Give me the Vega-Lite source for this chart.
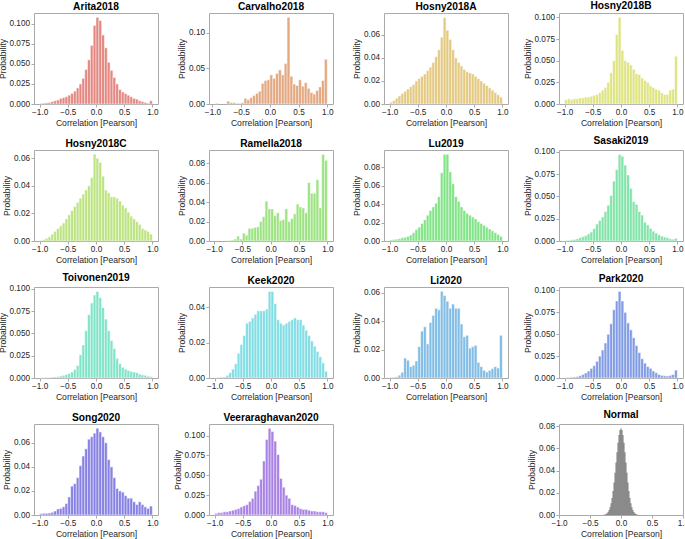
{
"$schema":"https://vega.github.io/schema/vega-lite/v6.json",
"padding":{"left":-3,"top":0,"right":2,"bottom":0},
"columns":4,
"bounds":"flush",
"spacing":{"row":46,"column":51},
"config":{
 "view":{"stroke":"#aaaaaa","strokeWidth":1},
 "font":"Liberation Sans",
 "axis":{"domain":false,"grid":false,"ticks":true,"tickColor":"#aaaaaa","tickSize":3,"labelFont":"Liberation Sans","labelFontSize":8.2,"labelColor":"#262626","titleFont":"Liberation Sans","titleFontSize":8.6,"titleFontWeight":"normal","titleColor":"#262626","labelPadding":1.5,"titlePadding":2,"labelOverlap":false,"labelFlush":false,"labelBound":false},
 "axisX":{"titlePadding":2.5},
 "title":{"font":"Liberation Sans","fontSize":10.2,"fontWeight":"bold","color":"#000000","offset":1,"anchor":"middle"}
},
"datasets":{
"Arita2018":[{"b":-1,"e":-0.95,"v":0.0005},{"b":-0.95,"e":-0.9,"v":0.001},{"b":-0.9,"e":-0.85,"v":0.0015},{"b":-0.85,"e":-0.8,"v":0.002},{"b":-0.8,"e":-0.75,"v":0.003},{"b":-0.75,"e":-0.7,"v":0.004},{"b":-0.7,"e":-0.65,"v":0.005},{"b":-0.65,"e":-0.6,"v":0.007},{"b":-0.6,"e":-0.55,"v":0.008},{"b":-0.55,"e":-0.5,"v":0.009},{"b":-0.5,"e":-0.45,"v":0.011},{"b":-0.45,"e":-0.4,"v":0.013},{"b":-0.4,"e":-0.35,"v":0.016},{"b":-0.35,"e":-0.3,"v":0.02},{"b":-0.3,"e":-0.25,"v":0.025},{"b":-0.25,"e":-0.2,"v":0.032},{"b":-0.2,"e":-0.15,"v":0.043},{"b":-0.15,"e":-0.1,"v":0.055},{"b":-0.1,"e":-0.05,"v":0.073},{"b":-0.05,"e":0,"v":0.098},{"b":0,"e":0.05,"v":0.108},{"b":0.05,"e":0.1,"v":0.104},{"b":0.1,"e":0.15,"v":0.086},{"b":0.15,"e":0.2,"v":0.07},{"b":0.2,"e":0.25,"v":0.052},{"b":0.25,"e":0.3,"v":0.042},{"b":0.3,"e":0.35,"v":0.033},{"b":0.35,"e":0.4,"v":0.025},{"b":0.4,"e":0.45,"v":0.018},{"b":0.45,"e":0.5,"v":0.015},{"b":0.5,"e":0.55,"v":0.013},{"b":0.55,"e":0.6,"v":0.011},{"b":0.6,"e":0.65,"v":0.009},{"b":0.65,"e":0.7,"v":0.007},{"b":0.7,"e":0.75,"v":0.006},{"b":0.75,"e":0.8,"v":0.004},{"b":0.8,"e":0.85,"v":0.003},{"b":0.85,"e":0.9,"v":0.002},{"b":0.9,"e":0.95,"v":0.001},{"b":0.95,"e":1,"v":0.004}],
"Carvalho2018":[{"b":-0.95,"e":-0.9,"v":0.001},{"b":-0.75,"e":-0.7,"v":0.004},{"b":-0.7,"e":-0.65,"v":0.002},{"b":-0.65,"e":-0.6,"v":0.002},{"b":-0.6,"e":-0.55,"v":0.001},{"b":-0.55,"e":-0.5,"v":0.001},{"b":-0.5,"e":-0.45,"v":0.002},{"b":-0.45,"e":-0.4,"v":0.008},{"b":-0.4,"e":-0.35,"v":0.006},{"b":-0.35,"e":-0.3,"v":0.009},{"b":-0.3,"e":-0.25,"v":0.012},{"b":-0.25,"e":-0.2,"v":0.015},{"b":-0.2,"e":-0.15,"v":0.018},{"b":-0.15,"e":-0.1,"v":0.029},{"b":-0.1,"e":-0.05,"v":0.033},{"b":-0.05,"e":0,"v":0.034},{"b":0,"e":0.05,"v":0.041},{"b":0.05,"e":0.1,"v":0.036},{"b":0.1,"e":0.15,"v":0.043},{"b":0.15,"e":0.2,"v":0.048},{"b":0.2,"e":0.25,"v":0.041},{"b":0.25,"e":0.3,"v":0.057},{"b":0.3,"e":0.35,"v":0.122},{"b":0.35,"e":0.4,"v":0.039},{"b":0.4,"e":0.45,"v":0.028},{"b":0.45,"e":0.5,"v":0.026},{"b":0.5,"e":0.55,"v":0.034},{"b":0.55,"e":0.6,"v":0.025},{"b":0.6,"e":0.65,"v":0.03},{"b":0.65,"e":0.7,"v":0.022},{"b":0.7,"e":0.75,"v":0.016},{"b":0.75,"e":0.8,"v":0.014},{"b":0.8,"e":0.85,"v":0.019},{"b":0.85,"e":0.9,"v":0.024},{"b":0.9,"e":0.95,"v":0.033},{"b":0.95,"e":1,"v":0.063}],
"Hosny2018A":[{"b":-1,"e":-0.95,"v":0.0015},{"b":-0.95,"e":-0.9,"v":0.003},{"b":-0.9,"e":-0.85,"v":0.005},{"b":-0.85,"e":-0.8,"v":0.007},{"b":-0.8,"e":-0.75,"v":0.009},{"b":-0.75,"e":-0.7,"v":0.011},{"b":-0.7,"e":-0.65,"v":0.013},{"b":-0.65,"e":-0.6,"v":0.015},{"b":-0.6,"e":-0.55,"v":0.017},{"b":-0.55,"e":-0.5,"v":0.02},{"b":-0.5,"e":-0.45,"v":0.022},{"b":-0.45,"e":-0.4,"v":0.024},{"b":-0.4,"e":-0.35,"v":0.026},{"b":-0.35,"e":-0.3,"v":0.029},{"b":-0.3,"e":-0.25,"v":0.032},{"b":-0.25,"e":-0.2,"v":0.036},{"b":-0.2,"e":-0.15,"v":0.041},{"b":-0.15,"e":-0.1,"v":0.047},{"b":-0.1,"e":-0.05,"v":0.058},{"b":-0.05,"e":0,"v":0.075},{"b":0,"e":0.05,"v":0.064},{"b":0.05,"e":0.1,"v":0.056},{"b":0.1,"e":0.15,"v":0.047},{"b":0.15,"e":0.2,"v":0.04},{"b":0.2,"e":0.25,"v":0.036},{"b":0.25,"e":0.3,"v":0.033},{"b":0.3,"e":0.35,"v":0.03},{"b":0.35,"e":0.4,"v":0.028},{"b":0.4,"e":0.45,"v":0.027},{"b":0.45,"e":0.5,"v":0.026},{"b":0.5,"e":0.55,"v":0.024},{"b":0.55,"e":0.6,"v":0.022},{"b":0.6,"e":0.65,"v":0.02},{"b":0.65,"e":0.7,"v":0.018},{"b":0.7,"e":0.75,"v":0.016},{"b":0.75,"e":0.8,"v":0.014},{"b":0.8,"e":0.85,"v":0.012},{"b":0.85,"e":0.9,"v":0.01},{"b":0.9,"e":0.95,"v":0.008},{"b":0.95,"e":1,"v":0.006}],
"Hosny2018B":[{"b":-1,"e":-0.95,"v":0.005},{"b":-0.95,"e":-0.9,"v":0.006},{"b":-0.9,"e":-0.85,"v":0.005},{"b":-0.85,"e":-0.8,"v":0.006},{"b":-0.8,"e":-0.75,"v":0.006},{"b":-0.75,"e":-0.7,"v":0.007},{"b":-0.7,"e":-0.65,"v":0.007},{"b":-0.65,"e":-0.6,"v":0.008},{"b":-0.6,"e":-0.55,"v":0.008},{"b":-0.55,"e":-0.5,"v":0.009},{"b":-0.5,"e":-0.45,"v":0.01},{"b":-0.45,"e":-0.4,"v":0.011},{"b":-0.4,"e":-0.35,"v":0.013},{"b":-0.35,"e":-0.3,"v":0.016},{"b":-0.3,"e":-0.25,"v":0.019},{"b":-0.25,"e":-0.2,"v":0.025},{"b":-0.2,"e":-0.15,"v":0.036},{"b":-0.15,"e":-0.1,"v":0.05},{"b":-0.1,"e":-0.05,"v":0.08},{"b":-0.05,"e":0,"v":0.1},{"b":0,"e":0.05,"v":0.062},{"b":0.05,"e":0.1,"v":0.05},{"b":0.1,"e":0.15,"v":0.048},{"b":0.15,"e":0.2,"v":0.045},{"b":0.2,"e":0.25,"v":0.04},{"b":0.25,"e":0.3,"v":0.035},{"b":0.3,"e":0.35,"v":0.034},{"b":0.35,"e":0.4,"v":0.03},{"b":0.4,"e":0.45,"v":0.027},{"b":0.45,"e":0.5,"v":0.025},{"b":0.5,"e":0.55,"v":0.021},{"b":0.55,"e":0.6,"v":0.019},{"b":0.6,"e":0.65,"v":0.017},{"b":0.65,"e":0.7,"v":0.016},{"b":0.7,"e":0.75,"v":0.013},{"b":0.75,"e":0.8,"v":0.011},{"b":0.8,"e":0.85,"v":0.011},{"b":0.85,"e":0.9,"v":0.016},{"b":0.9,"e":0.95,"v":0.017},{"b":0.95,"e":1,"v":0.055}],
"Hosny2018C":[{"b":-1,"e":-0.95,"v":0.0005},{"b":-0.95,"e":-0.9,"v":0.001},{"b":-0.9,"e":-0.85,"v":0.002},{"b":-0.85,"e":-0.8,"v":0.003},{"b":-0.8,"e":-0.75,"v":0.005},{"b":-0.75,"e":-0.7,"v":0.007},{"b":-0.7,"e":-0.65,"v":0.009},{"b":-0.65,"e":-0.6,"v":0.011},{"b":-0.6,"e":-0.55,"v":0.013},{"b":-0.55,"e":-0.5,"v":0.016},{"b":-0.5,"e":-0.45,"v":0.019},{"b":-0.45,"e":-0.4,"v":0.022},{"b":-0.4,"e":-0.35,"v":0.025},{"b":-0.35,"e":-0.3,"v":0.028},{"b":-0.3,"e":-0.25,"v":0.031},{"b":-0.25,"e":-0.2,"v":0.034},{"b":-0.2,"e":-0.15,"v":0.037},{"b":-0.15,"e":-0.1,"v":0.04},{"b":-0.1,"e":-0.05,"v":0.046},{"b":-0.05,"e":0,"v":0.063},{"b":0,"e":0.05,"v":0.06},{"b":0.05,"e":0.1,"v":0.057},{"b":0.1,"e":0.15,"v":0.047},{"b":0.15,"e":0.2,"v":0.037},{"b":0.2,"e":0.25,"v":0.035},{"b":0.25,"e":0.3,"v":0.032},{"b":0.3,"e":0.35,"v":0.032},{"b":0.35,"e":0.4,"v":0.031},{"b":0.4,"e":0.45,"v":0.029},{"b":0.45,"e":0.5,"v":0.026},{"b":0.5,"e":0.55,"v":0.024},{"b":0.55,"e":0.6,"v":0.021},{"b":0.6,"e":0.65,"v":0.018},{"b":0.65,"e":0.7,"v":0.016},{"b":0.7,"e":0.75,"v":0.014},{"b":0.75,"e":0.8,"v":0.012},{"b":0.8,"e":0.85,"v":0.009},{"b":0.85,"e":0.9,"v":0.008},{"b":0.9,"e":0.95,"v":0.007},{"b":0.95,"e":1,"v":0.005}],
"Ramella2018":[{"b":-0.8,"e":-0.75,"v":0.0005},{"b":-0.75,"e":-0.7,"v":0.0005},{"b":-0.7,"e":-0.65,"v":0.001},{"b":-0.65,"e":-0.6,"v":0.002},{"b":-0.6,"e":-0.55,"v":0.005},{"b":-0.55,"e":-0.5,"v":0.002},{"b":-0.5,"e":-0.45,"v":0.008},{"b":-0.45,"e":-0.4,"v":0.006},{"b":-0.4,"e":-0.35,"v":0.013},{"b":-0.35,"e":-0.3,"v":0.013},{"b":-0.3,"e":-0.25,"v":0.014},{"b":-0.25,"e":-0.2,"v":0.0145},{"b":-0.2,"e":-0.15,"v":0.02},{"b":-0.15,"e":-0.1,"v":0.025},{"b":-0.1,"e":-0.05,"v":0.041},{"b":-0.05,"e":0,"v":0.033},{"b":0,"e":0.05,"v":0.033},{"b":0.05,"e":0.1,"v":0.026},{"b":0.1,"e":0.15,"v":0.029},{"b":0.15,"e":0.2,"v":0.021},{"b":0.2,"e":0.25,"v":0.022},{"b":0.25,"e":0.3,"v":0.033},{"b":0.3,"e":0.35,"v":0.02},{"b":0.35,"e":0.4,"v":0.023},{"b":0.4,"e":0.45,"v":0.028},{"b":0.45,"e":0.5,"v":0.038},{"b":0.5,"e":0.55,"v":0.035},{"b":0.55,"e":0.6,"v":0.034},{"b":0.6,"e":0.65,"v":0.029},{"b":0.65,"e":0.7,"v":0.06},{"b":0.7,"e":0.75,"v":0.049},{"b":0.75,"e":0.8,"v":0.049},{"b":0.8,"e":0.85,"v":0.063},{"b":0.85,"e":0.9,"v":0.034},{"b":0.9,"e":0.95,"v":0.089},{"b":0.95,"e":1,"v":0.083}],
"Lu2019":[{"b":-1,"e":-0.95,"v":0.001},{"b":-0.95,"e":-0.9,"v":0.0015},{"b":-0.9,"e":-0.85,"v":0.002},{"b":-0.85,"e":-0.8,"v":0.0025},{"b":-0.8,"e":-0.75,"v":0.0035},{"b":-0.75,"e":-0.7,"v":0.004},{"b":-0.7,"e":-0.65,"v":0.005},{"b":-0.65,"e":-0.6,"v":0.0065},{"b":-0.6,"e":-0.55,"v":0.009},{"b":-0.55,"e":-0.5,"v":0.0125},{"b":-0.5,"e":-0.45,"v":0.015},{"b":-0.45,"e":-0.4,"v":0.019},{"b":-0.4,"e":-0.35,"v":0.023},{"b":-0.35,"e":-0.3,"v":0.028},{"b":-0.3,"e":-0.25,"v":0.033},{"b":-0.25,"e":-0.2,"v":0.037},{"b":-0.2,"e":-0.15,"v":0.041},{"b":-0.15,"e":-0.1,"v":0.048},{"b":-0.1,"e":-0.05,"v":0.074},{"b":-0.05,"e":0,"v":0.094},{"b":0,"e":0.05,"v":0.094},{"b":0.05,"e":0.1,"v":0.075},{"b":0.1,"e":0.15,"v":0.062},{"b":0.15,"e":0.2,"v":0.048},{"b":0.2,"e":0.25,"v":0.043},{"b":0.25,"e":0.3,"v":0.037},{"b":0.3,"e":0.35,"v":0.033},{"b":0.35,"e":0.4,"v":0.03},{"b":0.4,"e":0.45,"v":0.028},{"b":0.45,"e":0.5,"v":0.026},{"b":0.5,"e":0.55,"v":0.024},{"b":0.55,"e":0.6,"v":0.021},{"b":0.6,"e":0.65,"v":0.019},{"b":0.65,"e":0.7,"v":0.017},{"b":0.7,"e":0.75,"v":0.015},{"b":0.75,"e":0.8,"v":0.013},{"b":0.8,"e":0.85,"v":0.011},{"b":0.85,"e":0.9,"v":0.009},{"b":0.9,"e":0.95,"v":0.007},{"b":0.95,"e":1,"v":0.005}],
"Sasaki2019":[{"b":-1,"e":-0.95,"v":0.0005},{"b":-0.95,"e":-0.9,"v":0.0008},{"b":-0.9,"e":-0.85,"v":0.0012},{"b":-0.85,"e":-0.8,"v":0.0018},{"b":-0.8,"e":-0.75,"v":0.0025},{"b":-0.75,"e":-0.7,"v":0.0037},{"b":-0.7,"e":-0.65,"v":0.0048},{"b":-0.65,"e":-0.6,"v":0.006},{"b":-0.6,"e":-0.55,"v":0.008},{"b":-0.55,"e":-0.5,"v":0.01},{"b":-0.5,"e":-0.45,"v":0.014},{"b":-0.45,"e":-0.4,"v":0.019},{"b":-0.4,"e":-0.35,"v":0.023},{"b":-0.35,"e":-0.3,"v":0.027},{"b":-0.3,"e":-0.25,"v":0.033},{"b":-0.25,"e":-0.2,"v":0.04},{"b":-0.2,"e":-0.15,"v":0.051},{"b":-0.15,"e":-0.1,"v":0.067},{"b":-0.1,"e":-0.05,"v":0.08},{"b":-0.05,"e":0,"v":0.097},{"b":0,"e":0.05,"v":0.095},{"b":0.05,"e":0.1,"v":0.085},{"b":0.1,"e":0.15,"v":0.074},{"b":0.15,"e":0.2,"v":0.059},{"b":0.2,"e":0.25,"v":0.044},{"b":0.25,"e":0.3,"v":0.041},{"b":0.3,"e":0.35,"v":0.033},{"b":0.35,"e":0.4,"v":0.029},{"b":0.4,"e":0.45,"v":0.021},{"b":0.45,"e":0.5,"v":0.018},{"b":0.5,"e":0.55,"v":0.014},{"b":0.55,"e":0.6,"v":0.011},{"b":0.6,"e":0.65,"v":0.009},{"b":0.65,"e":0.7,"v":0.007},{"b":0.7,"e":0.75,"v":0.0055},{"b":0.75,"e":0.8,"v":0.0044},{"b":0.8,"e":0.85,"v":0.0037},{"b":0.85,"e":0.9,"v":0.0025},{"b":0.9,"e":0.95,"v":0.002},{"b":0.95,"e":1,"v":0.003}],
"Toivonen2019":[{"b":-1,"e":-0.95,"v":0.0002},{"b":-0.95,"e":-0.9,"v":0.0003},{"b":-0.9,"e":-0.85,"v":0.0005},{"b":-0.85,"e":-0.8,"v":0.0007},{"b":-0.8,"e":-0.75,"v":0.001},{"b":-0.75,"e":-0.7,"v":0.0012},{"b":-0.7,"e":-0.65,"v":0.0015},{"b":-0.65,"e":-0.6,"v":0.0022},{"b":-0.6,"e":-0.55,"v":0.003},{"b":-0.55,"e":-0.5,"v":0.004},{"b":-0.5,"e":-0.45,"v":0.005},{"b":-0.45,"e":-0.4,"v":0.0067},{"b":-0.4,"e":-0.35,"v":0.0096},{"b":-0.35,"e":-0.3,"v":0.014},{"b":-0.3,"e":-0.25,"v":0.026},{"b":-0.25,"e":-0.2,"v":0.037},{"b":-0.2,"e":-0.15,"v":0.053},{"b":-0.15,"e":-0.1,"v":0.071},{"b":-0.1,"e":-0.05,"v":0.084},{"b":-0.05,"e":0,"v":0.093},{"b":0,"e":0.05,"v":0.097},{"b":0.05,"e":0.1,"v":0.09},{"b":0.1,"e":0.15,"v":0.079},{"b":0.15,"e":0.2,"v":0.066},{"b":0.2,"e":0.25,"v":0.053},{"b":0.25,"e":0.3,"v":0.042},{"b":0.3,"e":0.35,"v":0.033},{"b":0.35,"e":0.4,"v":0.022},{"b":0.4,"e":0.45,"v":0.016},{"b":0.45,"e":0.5,"v":0.012},{"b":0.5,"e":0.55,"v":0.01},{"b":0.55,"e":0.6,"v":0.0085},{"b":0.6,"e":0.65,"v":0.0074},{"b":0.65,"e":0.7,"v":0.0067},{"b":0.7,"e":0.75,"v":0.006},{"b":0.75,"e":0.8,"v":0.0044},{"b":0.8,"e":0.85,"v":0.0035},{"b":0.85,"e":0.9,"v":0.003},{"b":0.9,"e":0.95,"v":0.002},{"b":0.95,"e":1,"v":0.0015}],
"Keek2020":[{"b":-1,"e":-0.95,"v":0.0002},{"b":-0.95,"e":-0.9,"v":0.0003},{"b":-0.9,"e":-0.85,"v":0.0005},{"b":-0.85,"e":-0.8,"v":0.0006},{"b":-0.8,"e":-0.75,"v":0.0015},{"b":-0.75,"e":-0.7,"v":0.003},{"b":-0.7,"e":-0.65,"v":0.005},{"b":-0.65,"e":-0.6,"v":0.008},{"b":-0.6,"e":-0.55,"v":0.014},{"b":-0.55,"e":-0.5,"v":0.019},{"b":-0.5,"e":-0.45,"v":0.024},{"b":-0.45,"e":-0.4,"v":0.031},{"b":-0.4,"e":-0.35,"v":0.032},{"b":-0.35,"e":-0.3,"v":0.034},{"b":-0.3,"e":-0.25,"v":0.036},{"b":-0.25,"e":-0.2,"v":0.038},{"b":-0.2,"e":-0.15,"v":0.038},{"b":-0.15,"e":-0.1,"v":0.038},{"b":-0.1,"e":-0.05,"v":0.039},{"b":-0.05,"e":0,"v":0.049},{"b":0,"e":0.05,"v":0.049},{"b":0.05,"e":0.1,"v":0.042},{"b":0.1,"e":0.15,"v":0.033},{"b":0.15,"e":0.2,"v":0.031},{"b":0.2,"e":0.25,"v":0.03},{"b":0.25,"e":0.3,"v":0.031},{"b":0.3,"e":0.35,"v":0.032},{"b":0.35,"e":0.4,"v":0.033},{"b":0.4,"e":0.45,"v":0.034},{"b":0.45,"e":0.5,"v":0.033},{"b":0.5,"e":0.55,"v":0.033},{"b":0.55,"e":0.6,"v":0.03},{"b":0.6,"e":0.65,"v":0.027},{"b":0.65,"e":0.7,"v":0.024},{"b":0.7,"e":0.75,"v":0.021},{"b":0.75,"e":0.8,"v":0.018},{"b":0.8,"e":0.85,"v":0.015},{"b":0.85,"e":0.9,"v":0.012},{"b":0.9,"e":0.95,"v":0.0086},{"b":0.95,"e":1,"v":0.0038}],
"Li2020":[{"b":-1,"e":-0.95,"v":0.0003},{"b":-0.95,"e":-0.9,"v":0.0005},{"b":-0.9,"e":-0.85,"v":0.0008},{"b":-0.85,"e":-0.8,"v":0.002},{"b":-0.8,"e":-0.75,"v":0.004},{"b":-0.75,"e":-0.7,"v":0.014},{"b":-0.7,"e":-0.65,"v":0.0125},{"b":-0.65,"e":-0.6,"v":0.008},{"b":-0.6,"e":-0.55,"v":0.009},{"b":-0.55,"e":-0.5,"v":0.012},{"b":-0.5,"e":-0.45,"v":0.022},{"b":-0.45,"e":-0.4,"v":0.033},{"b":-0.4,"e":-0.35,"v":0.036},{"b":-0.35,"e":-0.3,"v":0.024},{"b":-0.3,"e":-0.25,"v":0.039},{"b":-0.25,"e":-0.2,"v":0.044},{"b":-0.2,"e":-0.15,"v":0.049},{"b":-0.15,"e":-0.1,"v":0.048},{"b":-0.1,"e":-0.05,"v":0.061},{"b":-0.05,"e":0,"v":0.058},{"b":0,"e":0.05,"v":0.054},{"b":0.05,"e":0.1,"v":0.049},{"b":0.1,"e":0.15,"v":0.052},{"b":0.15,"e":0.2,"v":0.049},{"b":0.2,"e":0.25,"v":0.049},{"b":0.25,"e":0.3,"v":0.038},{"b":0.3,"e":0.35,"v":0.029},{"b":0.35,"e":0.4,"v":0.03},{"b":0.4,"e":0.45,"v":0.021},{"b":0.45,"e":0.5,"v":0.022},{"b":0.5,"e":0.55,"v":0.023},{"b":0.55,"e":0.6,"v":0.011},{"b":0.6,"e":0.65,"v":0.008},{"b":0.65,"e":0.7,"v":0.0054},{"b":0.7,"e":0.75,"v":0.0042},{"b":0.75,"e":0.8,"v":0.0054},{"b":0.8,"e":0.85,"v":0.0066},{"b":0.85,"e":0.9,"v":0.008},{"b":0.9,"e":0.95,"v":0.007},{"b":0.95,"e":1,"v":0.03}],
"Park2020":[{"b":-1,"e":-0.95,"v":0.0003},{"b":-0.95,"e":-0.9,"v":0.0005},{"b":-0.9,"e":-0.85,"v":0.0008},{"b":-0.85,"e":-0.8,"v":0.0011},{"b":-0.8,"e":-0.75,"v":0.0015},{"b":-0.75,"e":-0.7,"v":0.0025},{"b":-0.7,"e":-0.65,"v":0.004},{"b":-0.65,"e":-0.6,"v":0.0057},{"b":-0.6,"e":-0.55,"v":0.008},{"b":-0.55,"e":-0.5,"v":0.011},{"b":-0.5,"e":-0.45,"v":0.014},{"b":-0.45,"e":-0.4,"v":0.019},{"b":-0.4,"e":-0.35,"v":0.025},{"b":-0.35,"e":-0.3,"v":0.032},{"b":-0.3,"e":-0.25,"v":0.04},{"b":-0.25,"e":-0.2,"v":0.05},{"b":-0.2,"e":-0.15,"v":0.062},{"b":-0.15,"e":-0.1,"v":0.078},{"b":-0.1,"e":-0.05,"v":0.088},{"b":-0.05,"e":0,"v":0.099},{"b":0,"e":0.05,"v":0.088},{"b":0.05,"e":0.1,"v":0.075},{"b":0.1,"e":0.15,"v":0.063},{"b":0.15,"e":0.2,"v":0.055},{"b":0.2,"e":0.25,"v":0.046},{"b":0.25,"e":0.3,"v":0.037},{"b":0.3,"e":0.35,"v":0.029},{"b":0.35,"e":0.4,"v":0.022},{"b":0.4,"e":0.45,"v":0.017},{"b":0.45,"e":0.5,"v":0.013},{"b":0.5,"e":0.55,"v":0.011},{"b":0.55,"e":0.6,"v":0.008},{"b":0.6,"e":0.65,"v":0.006},{"b":0.65,"e":0.7,"v":0.004},{"b":0.7,"e":0.75,"v":0.003},{"b":0.75,"e":0.8,"v":0.0025},{"b":0.8,"e":0.85,"v":0.0023},{"b":0.85,"e":0.9,"v":0.003},{"b":0.9,"e":0.95,"v":0.004},{"b":0.95,"e":1,"v":0.009}],
"Song2020":[{"b":-1,"e":-0.95,"v":0.001},{"b":-0.95,"e":-0.9,"v":0.0014},{"b":-0.9,"e":-0.85,"v":0.0014},{"b":-0.85,"e":-0.8,"v":0.0016},{"b":-0.8,"e":-0.75,"v":0.0022},{"b":-0.75,"e":-0.7,"v":0.0033},{"b":-0.7,"e":-0.65,"v":0.005},{"b":-0.65,"e":-0.6,"v":0.0055},{"b":-0.6,"e":-0.55,"v":0.0068},{"b":-0.55,"e":-0.5,"v":0.0095},{"b":-0.5,"e":-0.45,"v":0.015},{"b":-0.45,"e":-0.4,"v":0.024},{"b":-0.4,"e":-0.35,"v":0.026},{"b":-0.35,"e":-0.3,"v":0.031},{"b":-0.3,"e":-0.25,"v":0.041},{"b":-0.25,"e":-0.2,"v":0.049},{"b":-0.2,"e":-0.15,"v":0.055},{"b":-0.15,"e":-0.1,"v":0.063},{"b":-0.1,"e":-0.05,"v":0.065},{"b":-0.05,"e":0,"v":0.068},{"b":0,"e":0.05,"v":0.072},{"b":0.05,"e":0.1,"v":0.069},{"b":0.1,"e":0.15,"v":0.065},{"b":0.15,"e":0.2,"v":0.06},{"b":0.2,"e":0.25,"v":0.046},{"b":0.25,"e":0.3,"v":0.04},{"b":0.3,"e":0.35,"v":0.031},{"b":0.35,"e":0.4,"v":0.022},{"b":0.4,"e":0.45,"v":0.02},{"b":0.45,"e":0.5,"v":0.019},{"b":0.5,"e":0.55,"v":0.016},{"b":0.55,"e":0.6,"v":0.014},{"b":0.6,"e":0.65,"v":0.014},{"b":0.65,"e":0.7,"v":0.011},{"b":0.7,"e":0.75,"v":0.0087},{"b":0.75,"e":0.8,"v":0.011},{"b":0.8,"e":0.85,"v":0.0087},{"b":0.85,"e":0.9,"v":0.0068},{"b":0.9,"e":0.95,"v":0.0055},{"b":0.95,"e":1,"v":0.0074}],
"Veeraraghavan2020":[{"b":-1,"e":-0.95,"v":0.002},{"b":-0.95,"e":-0.9,"v":0.003},{"b":-0.9,"e":-0.85,"v":0.003},{"b":-0.85,"e":-0.8,"v":0.004},{"b":-0.8,"e":-0.75,"v":0.004},{"b":-0.75,"e":-0.7,"v":0.005},{"b":-0.7,"e":-0.65,"v":0.006},{"b":-0.65,"e":-0.6,"v":0.007},{"b":-0.6,"e":-0.55,"v":0.008},{"b":-0.55,"e":-0.5,"v":0.01},{"b":-0.5,"e":-0.45,"v":0.0116},{"b":-0.45,"e":-0.4,"v":0.013},{"b":-0.4,"e":-0.35,"v":0.017},{"b":-0.35,"e":-0.3,"v":0.021},{"b":-0.3,"e":-0.25,"v":0.03},{"b":-0.25,"e":-0.2,"v":0.037},{"b":-0.2,"e":-0.15,"v":0.045},{"b":-0.15,"e":-0.1,"v":0.068},{"b":-0.1,"e":-0.05,"v":0.095},{"b":-0.05,"e":0,"v":0.109},{"b":0,"e":0.05,"v":0.105},{"b":0.05,"e":0.1,"v":0.093},{"b":0.1,"e":0.15,"v":0.076},{"b":0.15,"e":0.2,"v":0.046},{"b":0.2,"e":0.25,"v":0.035},{"b":0.25,"e":0.3,"v":0.025},{"b":0.3,"e":0.35,"v":0.021},{"b":0.35,"e":0.4,"v":0.013},{"b":0.4,"e":0.45,"v":0.012},{"b":0.45,"e":0.5,"v":0.01},{"b":0.5,"e":0.55,"v":0.008},{"b":0.55,"e":0.6,"v":0.007},{"b":0.6,"e":0.65,"v":0.007},{"b":0.65,"e":0.7,"v":0.006},{"b":0.7,"e":0.75,"v":0.005},{"b":0.75,"e":0.8,"v":0.005},{"b":0.8,"e":0.85,"v":0.004},{"b":0.85,"e":0.9,"v":0.004},{"b":0.9,"e":0.95,"v":0.004},{"b":0.95,"e":1,"v":0.003}],
"Normal":[{"b":-0.28,"e":-0.264,"v":0.0002},{"b":-0.264,"e":-0.248,"v":0.0005},{"b":-0.248,"e":-0.232,"v":0.0009},{"b":-0.232,"e":-0.216,"v":0.0015},{"b":-0.216,"e":-0.2,"v":0.0027},{"b":-0.2,"e":-0.184,"v":0.0044},{"b":-0.184,"e":-0.168,"v":0.0069},{"b":-0.168,"e":-0.152,"v":0.0106},{"b":-0.152,"e":-0.136,"v":0.0154},{"b":-0.136,"e":-0.12,"v":0.0217},{"b":-0.12,"e":-0.104,"v":0.0293},{"b":-0.104,"e":-0.088,"v":0.038},{"b":-0.088,"e":-0.072,"v":0.0473},{"b":-0.072,"e":-0.056,"v":0.0566},{"b":-0.056,"e":-0.04,"v":0.0651},{"b":-0.04,"e":-0.024,"v":0.072},{"b":-0.024,"e":-0.008,"v":0.0765},{"b":-0.008,"e":0.008,"v":0.078},{"b":0.008,"e":0.024,"v":0.0765},{"b":0.024,"e":0.04,"v":0.072},{"b":0.04,"e":0.056,"v":0.0651},{"b":0.056,"e":0.072,"v":0.0566},{"b":0.072,"e":0.088,"v":0.0473},{"b":0.088,"e":0.104,"v":0.038},{"b":0.104,"e":0.12,"v":0.0293},{"b":0.12,"e":0.136,"v":0.0217},{"b":0.136,"e":0.152,"v":0.0154},{"b":0.152,"e":0.168,"v":0.0106},{"b":0.168,"e":0.184,"v":0.0069},{"b":0.184,"e":0.2,"v":0.0044},{"b":0.2,"e":0.216,"v":0.0027},{"b":0.216,"e":0.232,"v":0.0015},{"b":0.232,"e":0.248,"v":0.0009},{"b":0.248,"e":0.264,"v":0.0005},{"b":0.264,"e":0.28,"v":0.0002}]
},
"concat":[
{"title":"Arita2018","width":124,"height":91,"data":{"name":"Arita2018"},"mark":{"type":"bar","fill":"#DB5F57","opacity":0.75,"stroke":"white","strokeWidth":0.5},"encoding":{"x":{"field":"b","type":"quantitative","scale":{"domain":[-1.1,1.1],"nice":false,"zero":false},"axis":{"values":[-1,-0.5,0,0.5,1],"format":".1f"},"title":"Correlation [Pearson]"},"x2":{"field":"e"},"y":{"field":"v","type":"quantitative","scale":{"domain":[0,0.1134],"nice":false},"axis":{"values":[0,0.025,0.05,0.075,0.1],"format":".3f"},"title":"Probability"},"y2":{"datum":0}}},
{"title":"Carvalho2018","width":124,"height":91,"data":{"name":"Carvalho2018"},"mark":{"type":"bar","fill":"#DB8B57","opacity":0.75,"stroke":"white","strokeWidth":0.5},"encoding":{"x":{"field":"b","type":"quantitative","scale":{"domain":[-1.06,1.1],"nice":false,"zero":false},"axis":{"values":[-1,-0.5,0,0.5,1],"format":".1f"},"title":"Correlation [Pearson]"},"x2":{"field":"e"},"y":{"field":"v","type":"quantitative","scale":{"domain":[0,0.128],"nice":false},"axis":{"values":[0,0.05,0.1],"format":".2f"},"title":"Probability"},"y2":{"datum":0}}},
{"title":"Hosny2018A","width":124,"height":91,"data":{"name":"Hosny2018A"},"mark":{"type":"bar","fill":"#DBB757","opacity":0.75,"stroke":"white","strokeWidth":0.5},"encoding":{"x":{"field":"b","type":"quantitative","scale":{"domain":[-1.1,1.1],"nice":false,"zero":false},"axis":{"values":[-1,-0.5,0,0.5,1],"format":".1f"},"title":"Correlation [Pearson]"},"x2":{"field":"e"},"y":{"field":"v","type":"quantitative","scale":{"domain":[0,0.079],"nice":false},"axis":{"values":[0,0.02,0.04,0.06],"format":".2f"},"title":"Probability"},"y2":{"datum":0}}},
{"title":"Hosny2018B","width":124,"height":91,"data":{"name":"Hosny2018B"},"mark":{"type":"bar","fill":"#D3DB57","opacity":0.75,"stroke":"white","strokeWidth":0.5},"encoding":{"x":{"field":"b","type":"quantitative","scale":{"domain":[-1.1,1.1],"nice":false,"zero":false},"axis":{"values":[-1,-0.5,0,0.5,1],"format":".1f"},"title":"Correlation [Pearson]"},"x2":{"field":"e"},"y":{"field":"v","type":"quantitative","scale":{"domain":[0,0.105],"nice":false},"axis":{"values":[0,0.025,0.05,0.075,0.1],"format":".3f"},"title":"Probability"},"y2":{"datum":0}}},
{"title":"Hosny2018C","width":124,"height":91,"data":{"name":"Hosny2018C"},"mark":{"type":"bar","fill":"#A7DB57","opacity":0.75,"stroke":"white","strokeWidth":0.5},"encoding":{"x":{"field":"b","type":"quantitative","scale":{"domain":[-1.1,1.1],"nice":false,"zero":false},"axis":{"values":[-1,-0.5,0,0.5,1],"format":".1f"},"title":"Correlation [Pearson]"},"x2":{"field":"e"},"y":{"field":"v","type":"quantitative","scale":{"domain":[0,0.066],"nice":false},"axis":{"values":[0,0.02,0.04,0.06],"format":".2f"},"title":"Probability"},"y2":{"datum":0}}},
{"title":"Ramella2018","width":124,"height":91,"data":{"name":"Ramella2018"},"mark":{"type":"bar","fill":"#7BDB57","opacity":0.75,"stroke":"white","strokeWidth":0.5},"encoding":{"x":{"field":"b","type":"quantitative","scale":{"domain":[-1.09,1.1],"nice":false,"zero":false},"axis":{"values":[-1,-0.5,0,0.5,1],"format":".1f"},"title":"Correlation [Pearson]"},"x2":{"field":"e"},"y":{"field":"v","type":"quantitative","scale":{"domain":[0,0.0935],"nice":false},"axis":{"values":[0,0.02,0.04,0.06,0.08],"format":".2f"},"title":"Probability"},"y2":{"datum":0}}},
{"title":"Lu2019","width":124,"height":91,"data":{"name":"Lu2019"},"mark":{"type":"bar","fill":"#57DB5F","opacity":0.75,"stroke":"white","strokeWidth":0.5},"encoding":{"x":{"field":"b","type":"quantitative","scale":{"domain":[-1.1,1.1],"nice":false,"zero":false},"axis":{"values":[-1,-0.5,0,0.5,1],"format":".1f"},"title":"Correlation [Pearson]"},"x2":{"field":"e"},"y":{"field":"v","type":"quantitative","scale":{"domain":[0,0.0987],"nice":false},"axis":{"values":[0,0.02,0.04,0.06,0.08],"format":".2f"},"title":"Probability"},"y2":{"datum":0}}},
{"title":"Sasaki2019","width":124,"height":91,"data":{"name":"Sasaki2019"},"mark":{"type":"bar","fill":"#57DB8B","opacity":0.75,"stroke":"white","strokeWidth":0.5},"encoding":{"x":{"field":"b","type":"quantitative","scale":{"domain":[-1.1,1.1],"nice":false,"zero":false},"axis":{"values":[-1,-0.5,0,0.5,1],"format":".1f"},"title":"Correlation [Pearson]"},"x2":{"field":"e"},"y":{"field":"v","type":"quantitative","scale":{"domain":[0,0.102],"nice":false},"axis":{"values":[0,0.025,0.05,0.075,0.1],"format":".3f"},"title":"Probability"},"y2":{"datum":0}}},
{"title":"Toivonen2019","width":124,"height":91,"data":{"name":"Toivonen2019"},"mark":{"type":"bar","fill":"#57DBB7","opacity":0.75,"stroke":"white","strokeWidth":0.5},"encoding":{"x":{"field":"b","type":"quantitative","scale":{"domain":[-1.1,1.1],"nice":false,"zero":false},"axis":{"values":[-1,-0.5,0,0.5,1],"format":".1f"},"title":"Correlation [Pearson]"},"x2":{"field":"e"},"y":{"field":"v","type":"quantitative","scale":{"domain":[0,0.102],"nice":false},"axis":{"values":[0,0.025,0.05,0.075,0.1],"format":".3f"},"title":"Probability"},"y2":{"datum":0}}},
{"title":"Keek2020","width":124,"height":91,"data":{"name":"Keek2020"},"mark":{"type":"bar","fill":"#57D3DB","opacity":0.75,"stroke":"white","strokeWidth":0.5},"encoding":{"x":{"field":"b","type":"quantitative","scale":{"domain":[-1.1,1.1],"nice":false,"zero":false},"axis":{"values":[-1,-0.5,0,0.5,1],"format":".1f"},"title":"Correlation [Pearson]"},"x2":{"field":"e"},"y":{"field":"v","type":"quantitative","scale":{"domain":[0,0.0515],"nice":false},"axis":{"values":[0,0.02,0.04],"format":".2f"},"title":"Probability"},"y2":{"datum":0}}},
{"title":"Li2020","width":124,"height":91,"data":{"name":"Li2020"},"mark":{"type":"bar","fill":"#57A7DB","opacity":0.75,"stroke":"white","strokeWidth":0.5},"encoding":{"x":{"field":"b","type":"quantitative","scale":{"domain":[-1.1,1.1],"nice":false,"zero":false},"axis":{"values":[-1,-0.5,0,0.5,1],"format":".1f"},"title":"Correlation [Pearson]"},"x2":{"field":"e"},"y":{"field":"v","type":"quantitative","scale":{"domain":[0,0.064],"nice":false},"axis":{"values":[0,0.02,0.04,0.06],"format":".2f"},"title":"Probability"},"y2":{"datum":0}}},
{"title":"Park2020","width":124,"height":91,"data":{"name":"Park2020"},"mark":{"type":"bar","fill":"#577BDB","opacity":0.75,"stroke":"white","strokeWidth":0.5},"encoding":{"x":{"field":"b","type":"quantitative","scale":{"domain":[-1.1,1.1],"nice":false,"zero":false},"axis":{"values":[-1,-0.5,0,0.5,1],"format":".1f"},"title":"Correlation [Pearson]"},"x2":{"field":"e"},"y":{"field":"v","type":"quantitative","scale":{"domain":[0,0.104],"nice":false},"axis":{"values":[0,0.025,0.05,0.075,0.1],"format":".3f"},"title":"Probability"},"y2":{"datum":0}}},
{"title":"Song2020","width":124,"height":91,"data":{"name":"Song2020"},"mark":{"type":"bar","fill":"#5F57DB","opacity":0.75,"stroke":"white","strokeWidth":0.5},"encoding":{"x":{"field":"b","type":"quantitative","scale":{"domain":[-1.1,1.1],"nice":false,"zero":false},"axis":{"values":[-1,-0.5,0,0.5,1],"format":".1f"},"title":"Correlation [Pearson]"},"x2":{"field":"e"},"y":{"field":"v","type":"quantitative","scale":{"domain":[0,0.0756],"nice":false},"axis":{"values":[0,0.02,0.04,0.06],"format":".2f"},"title":"Probability"},"y2":{"datum":0}}},
{"title":"Veeraraghavan2020","width":124,"height":91,"data":{"name":"Veeraraghavan2020"},"mark":{"type":"bar","fill":"#8B57DB","opacity":0.75,"stroke":"white","strokeWidth":0.5},"encoding":{"x":{"field":"b","type":"quantitative","scale":{"domain":[-1.1,1.1],"nice":false,"zero":false},"axis":{"values":[-1,-0.5,0,0.5,1],"format":".1f"},"title":"Correlation [Pearson]"},"x2":{"field":"e"},"y":{"field":"v","type":"quantitative","scale":{"domain":[0,0.1145],"nice":false},"axis":{"values":[0,0.025,0.05,0.075,0.1],"format":".3f"},"title":"Probability"},"y2":{"datum":0}}},
{"width":124,"height":91,"view":{"stroke":"transparent"},"data":{"values":[{"a":0}]},"mark":{"type":"point","opacity":0}},
{"title":"Normal","width":124,"height":91,"data":{"name":"Normal"},"mark":{"type":"bar","fill":"#4a4a4a","opacity":0.8,"strokeWidth":0},"encoding":{"x":{"field":"b","type":"quantitative","scale":{"domain":[-1,1],"nice":false,"zero":false},"axis":{"values":[-1,-0.5,0,0.5,1],"format":".1f"},"title":"Correlation [Pearson]"},"x2":{"field":"e"},"y":{"field":"v","type":"quantitative","scale":{"domain":[0,0.082],"nice":false},"axis":{"values":[0,0.02,0.04,0.06,0.08],"format":".2f"},"title":"Probability"},"y2":{"datum":0}}}
]
}
